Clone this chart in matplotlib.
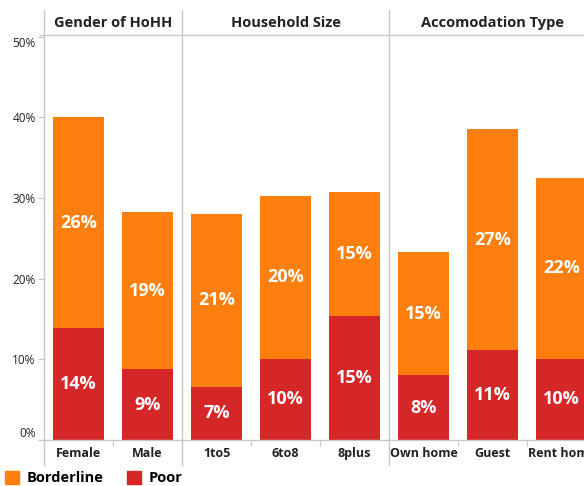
import matplotlib
matplotlib.use("Agg")
import matplotlib.pyplot as plt
from matplotlib.patches import Patch
import numpy as np

plt.rcParams['font.family'] = ['Open Sans', 'DejaVu Sans']

# Data (percent of households)
groups = ['Gender of HoHH', 'Household Size', 'Accomodation Type']
group_sizes = [2, 3, 3]
categories = ['Female', 'Male', '1to5', '6to8', '8plus', 'Own home', 'Guest', 'Rent home']
poor = [13.9, 8.8, 6.6, 10.1, 15.4, 8.0, 11.2, 10.1]
borderline = [26.1, 19.4, 21.4, 20.1, 15.4, 15.3, 27.3, 22.4]
y_ticks = [0, 10, 20, 30, 40, 50]

ORANGE = '#FF7F0E'
RED = '#D62728'
GRID = '#c8c8c8'

W, H = 584, 486
fig = plt.figure(figsize=(W / 100, H / 100), dpi=100)
# pixel layout of the plot pane (right side runs past the image edge)
left_px, right_px, top_px, bottom_px = 44, 596, 35, 440
ax = fig.add_axes([left_px / W, (H - bottom_px) / H,
                   (right_px - left_px) / W, (bottom_px - top_px) / H])

x = np.arange(len(categories))
poor = np.array(poor)
borderline = np.array(borderline)

ax.bar(x, poor, width=0.75, color=RED, zorder=2)
ax.bar(x, borderline, width=0.75, bottom=poor, color=ORANGE, zorder=2)

# value labels in the middle of each segment
for xi, p, b in zip(x, poor, borderline):
    ax.text(xi, p / 2, f'{p:.0f}%', ha='center', va='center', color='white',
            fontsize=13, fontweight='bold', zorder=3)
    ax.text(xi, p + b / 2, f'{b:.0f}%', ha='center', va='center', color='white',
            fontsize=13, fontweight='bold', zorder=3)

ax.set_xlim(-0.5, len(categories) - 0.5)
ax.set_ylim(0, 50.2)

for s in ax.spines.values():
    s.set_visible(False)

# y axis
ax.set_yticks(y_ticks)
ax.set_yticklabels([f'{t}%' for t in y_ticks])
ax.tick_params(axis='y', length=4, width=0.8, color=GRID, labelsize=8.5,
               labelcolor='#222222', pad=2)
ylabels = ax.get_yticklabels()
ylabels[0].set_verticalalignment('bottom')
ylabels[-1].set_verticalalignment('top')

# x axis
ax.set_xticks(x)
ax.set_xticklabels(categories, fontsize=9, fontweight='bold', color='#222222')
ax.tick_params(axis='x', which='major', length=0, pad=5)

# panel boundaries and minor ticks between categories
edges = np.cumsum([0] + group_sizes) - 0.5
inner = [v + 0.5 for v in x[:-1] if (v + 0.5) not in edges]
ax.set_xticks(inner, minor=True)
ax.tick_params(axis='x', which='minor', length=4, width=0.8, color=GRID)

pane_h = bottom_px - top_px
ymin_f = -(465 - bottom_px) / pane_h
ymax_f = 1 + (top_px - 10) / pane_h
for e in edges[:-1]:
    ax.axvline(e, ymin=ymin_f, ymax=ymax_f, color=GRID, lw=1, clip_on=False, zorder=1)

ext = -4 / (right_px - left_px)
ax.axhline(0, xmin=ext, xmax=1, color=GRID, lw=1, clip_on=False, zorder=4)
ax.axhline(ax.get_ylim()[1], xmin=ext, xmax=1, color=GRID, lw=1, clip_on=False, zorder=4)

# group headers
header_y = 1 + (top_px - 23) / pane_h
for g, lo, hi in zip(groups, edges[:-1], edges[1:]):
    ax.text((lo + hi) / 2, header_y, g, transform=ax.get_xaxis_transform(),
            ha='center', va='center', fontsize=10.5, fontweight='bold', color='#222222')

# legend
handles = [Patch(color=ORANGE, label='Borderline'), Patch(color=RED, label='Poor')]
fig.legend(handles=handles, loc='center left', bbox_to_anchor=(0.008, (H - 478) / H),
           ncol=2, frameon=False, handlelength=1.0, handleheight=1.0,
           handletextpad=0.5, columnspacing=1.6, borderaxespad=0, borderpad=0,
           prop={'size': 10.5, 'weight': 'bold'})

fig.savefig('out.png', dpi=100)
